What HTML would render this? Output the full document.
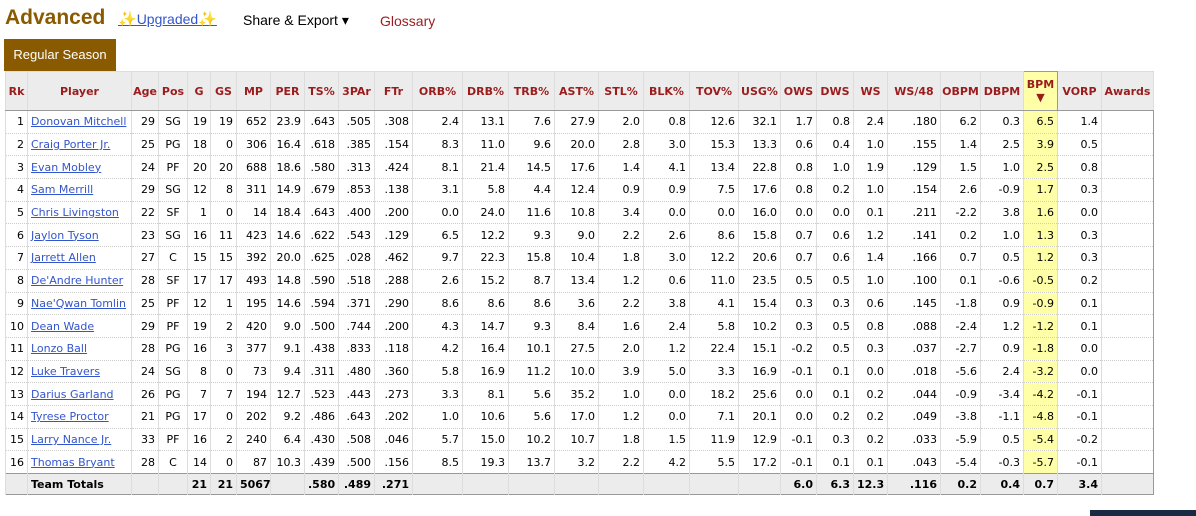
<!DOCTYPE html>
<html><head><meta charset="utf-8"><style>
body{margin:0;width:1196px;height:516px;overflow:hidden;background:#fff;font-family:"DejaVu Sans","Liberation Sans",sans-serif;position:relative}
#title{position:absolute;left:5px;top:6px;font:bold 21px "Liberation Sans",sans-serif;color:#8a5a00}
#upg{position:absolute;left:118px;top:10px;font:14px "Liberation Sans",sans-serif;color:#3355cc;text-decoration:underline}
.sp{color:#f5b041;text-decoration:none;font-size:15px}
#share{position:absolute;left:243px;top:12px;font:14px "Liberation Sans",sans-serif;color:#000}
#gloss{position:absolute;left:380px;top:13px;font:14px "Liberation Sans",sans-serif;color:#9b1c1c}
#tab{position:absolute;left:4px;top:39px;width:112px;height:32px;background:#8a5a00;color:#fff;font:13px "Liberation Sans",sans-serif;line-height:32px;text-align:center}
table{position:absolute;left:5px;top:71px;border-collapse:collapse;table-layout:fixed;width:1149px;border:1px solid #999;font-size:11px}
th{height:38px;background:#ececec;color:#9b1c1c;font-weight:bold;font-size:11px;border:1px solid #ddd;border-bottom:1px solid #999;padding:0 1px;text-align:center;white-space:nowrap;overflow:hidden}
td{height:21.7px;padding:0 3px;text-align:right;border-left:1px solid #ddd;border-bottom:1px dotted #ccc;white-space:nowrap;overflow:hidden;color:#000}
td.l{text-align:left}td.c{text-align:center}
td a{color:#3355cc;text-decoration:underline}
.bpm{background:#ffffa8}
th.bpm{background:#ffffa8;border:1px solid #999;line-height:13px}
tr.tot td{background:#ececec;font-weight:bold;height:20px;border-top:1px solid #999}
#blk{position:absolute;left:1090px;top:510px;width:106px;height:6px;background:#1a2a44}
</style></head><body>
<div id="title">Advanced</div>
<div id="upg"><span class="sp">✨</span>Upgraded<span class="sp">✨</span></div>
<div id="share">Share &amp; Export ▾</div>
<div id="gloss">Glossary</div>
<div id="tab">Regular Season</div>
<table id="t">
<colgroup id="cg"></colgroup>
<thead><tr id="hr"></tr></thead><tbody id="tb"></tbody></table>
<div id="blk"></div>
<script>
const headers=["Rk","Player","Age","Pos","G","GS","MP","PER","TS%","3PAr","FTr","ORB%","DRB%","TRB%","AST%","STL%","BLK%","TOV%","USG%","OWS","DWS","WS","WS/48","OBPM","DBPM","BPM","VORP","Awards"];
const widths=[22,104,27,29,23,26,34,34,34,36,38,50,46,46,44,45,46,49,42,36,37,34,53,40,43,34,44,52];
const players=["Donovan Mitchell","Craig Porter Jr.","Evan Mobley","Sam Merrill","Chris Livingston","Jaylon Tyson","Jarrett Allen","De'Andre Hunter","Nae'Qwan Tomlin","Dean Wade","Lonzo Ball","Luke Travers","Darius Garland","Tyrese Proctor","Larry Nance Jr.","Thomas Bryant"];
const rows=[
"29 SG 19 19 652 23.9 .643 .505 .308 2.4 13.1 7.6 27.9 2.0 0.8 12.6 32.1 1.7 0.8 2.4 .180 6.2 0.3 6.5 1.4",
"25 PG 18 0 306 16.4 .618 .385 .154 8.3 11.0 9.6 20.0 2.8 3.0 15.3 13.3 0.6 0.4 1.0 .155 1.4 2.5 3.9 0.5",
"24 PF 20 20 688 18.6 .580 .313 .424 8.1 21.4 14.5 17.6 1.4 4.1 13.4 22.8 0.8 1.0 1.9 .129 1.5 1.0 2.5 0.8",
"29 SG 12 8 311 14.9 .679 .853 .138 3.1 5.8 4.4 12.4 0.9 0.9 7.5 17.6 0.8 0.2 1.0 .154 2.6 -0.9 1.7 0.3",
"22 SF 1 0 14 18.4 .643 .400 .200 0.0 24.0 11.6 10.8 3.4 0.0 0.0 16.0 0.0 0.0 0.1 .211 -2.2 3.8 1.6 0.0",
"23 SG 16 11 423 14.6 .622 .543 .129 6.5 12.2 9.3 9.0 2.2 2.6 8.6 15.8 0.7 0.6 1.2 .141 0.2 1.0 1.3 0.3",
"27 C 15 15 392 20.0 .625 .028 .462 9.7 22.3 15.8 10.4 1.8 3.0 12.2 20.6 0.7 0.6 1.4 .166 0.7 0.5 1.2 0.3",
"28 SF 17 17 493 14.8 .590 .518 .288 2.6 15.2 8.7 13.4 1.2 0.6 11.0 23.5 0.5 0.5 1.0 .100 0.1 -0.6 -0.5 0.2",
"25 PF 12 1 195 14.6 .594 .371 .290 8.6 8.6 8.6 3.6 2.2 3.8 4.1 15.4 0.3 0.3 0.6 .145 -1.8 0.9 -0.9 0.1",
"29 PF 19 2 420 9.0 .500 .744 .200 4.3 14.7 9.3 8.4 1.6 2.4 5.8 10.2 0.3 0.5 0.8 .088 -2.4 1.2 -1.2 0.1",
"28 PG 16 3 377 9.1 .438 .833 .118 4.2 16.4 10.1 27.5 2.0 1.2 22.4 15.1 -0.2 0.5 0.3 .037 -2.7 0.9 -1.8 0.0",
"24 SG 8 0 73 9.4 .311 .480 .360 5.8 16.9 11.2 10.0 3.9 5.0 3.3 16.9 -0.1 0.1 0.0 .018 -5.6 2.4 -3.2 0.0",
"26 PG 7 7 194 12.7 .523 .443 .273 3.3 8.1 5.6 35.2 1.0 0.0 18.2 25.6 0.0 0.1 0.2 .044 -0.9 -3.4 -4.2 -0.1",
"21 PG 17 0 202 9.2 .486 .643 .202 1.0 10.6 5.6 17.0 1.2 0.0 7.1 20.1 0.0 0.2 0.2 .049 -3.8 -1.1 -4.8 -0.1",
"33 PF 16 2 240 6.4 .430 .508 .046 5.7 15.0 10.2 10.7 1.8 1.5 11.9 12.9 -0.1 0.3 0.2 .033 -5.9 0.5 -5.4 -0.2",
"28 C 14 0 87 10.3 .439 .500 .156 8.5 19.3 13.7 3.2 2.2 4.2 5.5 17.2 -0.1 0.1 0.1 .043 -5.4 -0.3 -5.7 -0.1"];
const totals=["","Team Totals","","","21","21","5067","",".580",".489",".271","","","","","","","","","6.0","6.3","12.3",".116","0.2","0.4","0.7","3.4",""];
const cg=document.getElementById('cg');
widths.forEach(w=>{const c=document.createElement('col');c.style.width=w+'px';cg.appendChild(c);});
const hr=document.getElementById('hr');
headers.forEach((h,i)=>{const th=document.createElement('th');


if(h==='BPM'){th.className='bpm';th.innerHTML='BPM<br>▼';}else th.textContent=h;hr.appendChild(th);});
const tb=document.getElementById('tb');
rows.forEach((r,i)=>{const tr=document.createElement('tr');


const v=[String(i+1),players[i]].concat(r.split(' '),['']);
v.forEach((x,j)=>{const td=document.createElement('td');
if(j===1){td.className='l';const a=document.createElement('a');a.textContent=x;


td.appendChild(a);}else td.textContent=x;
if(j===3)td.className='c';if(j===25)td.className='bpm';tr.appendChild(td);});
tb.appendChild(tr);});
const tr=document.createElement('tr');tr.className='tot';


totals.forEach((x,j)=>{const td=document.createElement('td');td.textContent=x;if(j===1)td.className='l';tr.appendChild(td);});
tb.appendChild(tr);
</script>
</body></html>
